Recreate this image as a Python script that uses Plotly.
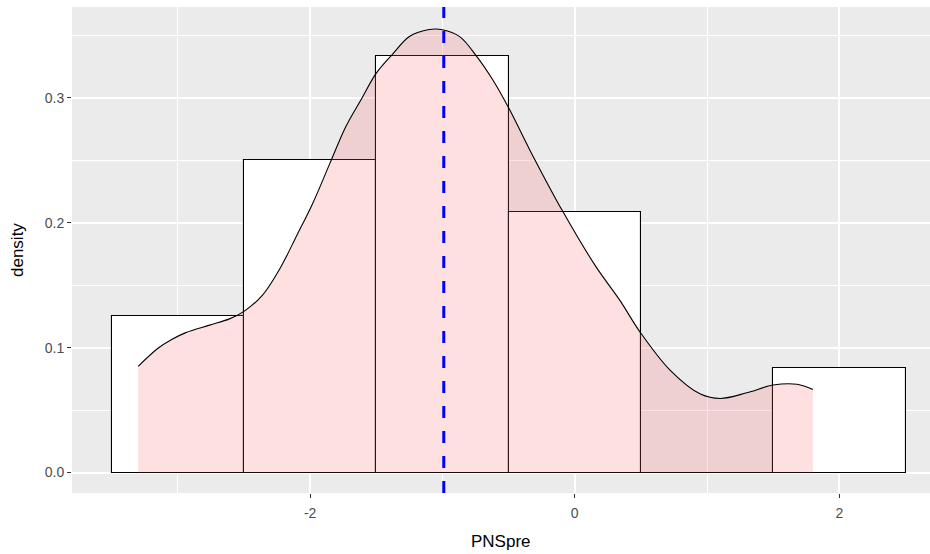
import plotly.graph_objects as go

# Histogram (binwidth 1)
bin_centers = [-3, -2, -1, 0, 1, 2]
bin_density = [0.125, 0.25, 0.3333, 0.2083, 0.0, 0.0833]

# Density curve
dens_x = [-3.30, -3.15, -3.05, -2.94, -2.76, -2.61, -2.50, -2.36, -2.23, -2.10,
          -1.98, -1.85, -1.73, -1.61, -1.50, -1.37, -1.25, -1.11, -1.00, -0.87,
          -0.74, -0.62, -0.49, -0.34, -0.09, 0.16, 0.34, 0.49, 0.72, 0.95,
          1.10, 1.30, 1.50, 1.68, 1.80]
dens_y = [0.085, 0.0995, 0.1063, 0.1120, 0.1180, 0.1230, 0.1290, 0.1420, 0.1630, 0.1900,
          0.2156, 0.2477, 0.2770, 0.2995, 0.3198, 0.3358, 0.3491, 0.3545, 0.3545, 0.3490,
          0.3330, 0.3144, 0.2900, 0.2583, 0.2089, 0.1648, 0.1380, 0.1130, 0.0820, 0.0628,
          0.0593, 0.0638, 0.0700, 0.0706, 0.0665]

mean_value = -0.99

x_ticks = [-2, 0, 2]
y_ticks = [0.0, 0.1, 0.2, 0.3]
y_ticklabels = ["0.0", "0.1", "0.2", "0.3"]

fig = go.Figure()
fig.add_trace(go.Bar(
    x=bin_centers, y=bin_density, width=1,
    marker=dict(color="white", line=dict(color="black", width=1.1)),
    showlegend=False, hoverinfo="skip"))
fig.add_trace(go.Scatter(
    x=dens_x, y=dens_y, mode="lines", fill="tozeroy",
    fillcolor="rgba(255,102,102,0.2)",
    line=dict(color="black", width=1.1, shape="spline", smoothing=1.0),
    showlegend=False, hoverinfo="skip"))

fig.add_shape(type="line", xref="x", yref="paper", x0=mean_value, x1=mean_value,
              y0=0, y1=1, line=dict(color="#0000FF", width=3, dash="12px,13px"),
              layer="above")

font_family = "Liberation Sans, Arial, sans-serif"
fig.update_layout(
    width=930, height=554,
    margin=dict(l=72, r=0, t=7, b=61),
    paper_bgcolor="white", plot_bgcolor="#EBEBEB",
    bargap=0,
    font=dict(family=font_family, color="#4D4D4D", size=14),
    xaxis=dict(range=[-3.8, 2.685], tickvals=x_ticks, ticktext=[str(v) for v in x_ticks],
               showgrid=True, gridcolor="white", gridwidth=1.5,
               minor=dict(tickvals=[-3, -1, 1], showgrid=True, gridcolor="white", gridwidth=0.7),
               ticks="outside", ticklen=4, tickwidth=1.1, tickcolor="#333333",
               ticklabelstandoff=3,
               tickfont=dict(size=14, color="#4D4D4D"), zeroline=False, showline=False),
    yaxis=dict(range=[-0.0164, 0.3727], tickvals=y_ticks, ticktext=y_ticklabels,
               showgrid=True, gridcolor="white", gridwidth=1.5,
               minor=dict(tickvals=[0.05, 0.15, 0.25, 0.35], showgrid=True, gridcolor="white", gridwidth=0.7),
               ticks="outside", ticklen=4, tickwidth=1.1, tickcolor="#333333",
               tickfont=dict(size=14, color="#4D4D4D"), zeroline=False, showline=False),
    annotations=[
        dict(text="PNSpre", xref="paper", yref="paper", x=0.5, y=0, yshift=-48,
             xanchor="center", yanchor="middle", showarrow=False,
             font=dict(size=17, color="black", family=font_family)),
        dict(text="density", xref="paper", yref="paper", x=0, y=0.5, xshift=-55,
             xanchor="center", yanchor="middle", showarrow=False, textangle=-90,
             font=dict(size=17, color="black", family=font_family)),
    ],
)

fig.write_html("out.html")
